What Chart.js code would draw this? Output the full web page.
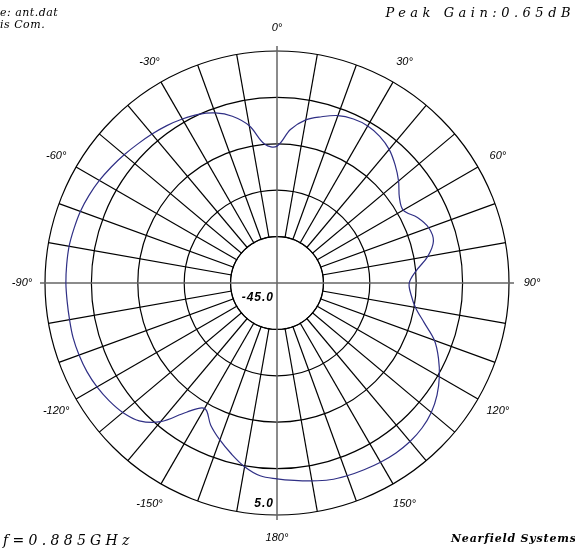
<!DOCTYPE html>
<html>
<head>
<meta charset="utf-8">
<script src="https://cdn.jsdelivr.net/npm/chart.js@4.4.0/dist/chart.umd.min.js"></script>
<style>
  html, body { margin: 0; padding: 0; background: #fff; }
  #wrap { width: 575px; height: 548px; }
</style>
</head>
<body>
<div id="wrap"><canvas id="patternChart" width="575" height="548"></canvas></div>
<script>
// cut angles, clockwise from 0 at the top, one every 5 deg
const angles = [];
for (let a = 0; a < 360; a += 5) angles.push(a <= 180 ? a : a - 360);

// measured gain in dB, same order as angles (0, 5, ... 180, -175, ... -5)
const gainDb = [
  -15.5, -11.8, -9.3, -7.9, -6.6, -6.0, -5.9, -6.4, -7.4, -9.0,
  -10.8, -12.8, -13.6, -11.6, -10.2, -10.1, -12.0, -14.9, -16.5, -16.0,
  -14.7, -12.2, -8.9, -6.6, -4.6, -2.9, -1.6, -0.8, -0.4, -0.3,
  -0.4, -0.6, -0.8, -1.1, -1.7, -2.3, -2.8,
  -3.3, -4.8, -6.9, -9.0, -11.2, -13.8, -11.0, -6.0, -3.0, -1.6,
  -0.8, -0.2, 0.2, 0.4, 0.5, 0.4, 0.4, 0.5, 0.5, 0.5,
  0.3, 0.1, -0.3, -0.8, -1.4, -2.0, -2.6, -3.1, -3.6, -4.2,
  -4.9, -6.0, -7.8, -10.6, -15.0
];

const angleLabels = [0, 30, 60, 90, 120, 150, 180, -150, -120, -90, -60, -30];
const ringLabelValues = [-45, 5];
const scaleMin = -45;
const scaleMax = 5;
const ringStep = 10;

const peakText = "Peak Gain:0.65dB";
const freqText = "f=0.885GHz";
const footText = "Nearfield Systems";
const headLines = ["e: ant.dat", "is Com."];

const gridColor = "#000";

const polarDecor = {
  id: "polarDecor",
  beforeDatasetsDraw(chart) {
    const s = chart.scales.r;
    const ctx = chart.ctx;
    const cx = s.xCenter, cy = s.yCenter;
    const hole = s.getDistanceFromCenterForValue(scaleMin + ringStep);
    ctx.save();
    // blank centre, spokes start on the first ring
    ctx.fillStyle = "#fff";
    ctx.beginPath();
    ctx.arc(cx, cy, hole - 0.6, 0, Math.PI * 2);
    ctx.fill();
    ctx.strokeStyle = gridColor;
    ctx.lineWidth = 1.2;
    ctx.beginPath();
    ctx.arc(cx, cy, hole, 0, Math.PI * 2);
    ctx.stroke();
    // main axes go right through
    const ext = s.drawingArea + 5;
    ctx.strokeStyle = "#666";
    ctx.lineWidth = 1.5;
    ctx.beginPath();
    ctx.moveTo(cx - ext, cy);
    ctx.lineTo(cx + ext, cy);
    ctx.moveTo(cx, cy - ext);
    ctx.lineTo(cx, cy + ext);
    ctx.stroke();
    ctx.restore();
  },
  afterDraw(chart) {
    const s = chart.scales.r;
    const ctx = chart.ctx;
    const cx = s.xCenter, cy = s.yCenter;
    ctx.save();
    ctx.fillStyle = "#000";
    ctx.textBaseline = "middle";

    // angle labels
    ctx.textAlign = "center";
    ctx.font = 'italic 11px "Liberation Sans"';
    angleLabels.forEach(a => {
      const p = s.getPointPosition(angles.indexOf(a), s.drawingArea + 23);
      ctx.fillText(a + "\u00b0", p.x, p.y);
    });

    // ring values, down the 180 line
    ctx.textAlign = "right";
    ctx.font = 'italic bold 12px "Liberation Sans"';
    ctx.letterSpacing = "1px";
    ringLabelValues.forEach(v => {
      const r = s.getDistanceFromCenterForValue(v);
      const y = v === scaleMin ? cy + 15 : cy + r - 11;
      ctx.fillText(v.toFixed(1), cx - 3, y);
    });

    // header / footer text
    ctx.font = 'italic 13px "DejaVu Serif"';
    ctx.letterSpacing = "4.5px";
    ctx.textAlign = "right";
    ctx.fillText(peakText, 575, 14);
    ctx.textAlign = "left";
    ctx.font = 'italic 14px "DejaVu Serif"';
    ctx.letterSpacing = "4.3px";
    ctx.fillText(freqText, 3, 541);

    ctx.font = 'italic bold 11px "DejaVu Serif"';
    ctx.letterSpacing = "0.8px";
    ctx.fillText(footText, 451, 539);

    ctx.font = 'italic 11px "DejaVu Serif"';
    ctx.letterSpacing = "0.5px";
    headLines.forEach((t, i) => ctx.fillText(t, 0, 13 + i * 12));
    ctx.restore();
  }
};

new Chart(document.getElementById("patternChart"), {
  type: "radar",
  data: {
    labels: angles,
    datasets: [
      {
        data: gainDb,
        borderColor: "#2f2f85",
        borderWidth: 1.2,
        fill: false,
        pointRadius: 0,
        tension: 0.35
      }
    ]
  },
  options: {
    responsive: false,
    animation: false,
    layout: { padding: { left: 45, top: 51, right: 66, bottom: 33 } },
    plugins: {
      legend: { display: false },
      tooltip: { enabled: false }
    },
    scales: {
      r: {
        min: scaleMin,
        max: scaleMax,
        startAngle: 0,
        ticks: { stepSize: ringStep, display: false },
        grid: { circular: true, color: gridColor, lineWidth: 1.2 },
        angleLines: {
          lineWidth: 1.2,
          color: c => (angles[c.index] % 10 === 0 && angles[c.index] % 90 !== 0) ? gridColor : "transparent"
        },
        pointLabels: { display: false }
      }
    }
  },
  plugins: [polarDecor]
});
</script>
</body>
</html>
